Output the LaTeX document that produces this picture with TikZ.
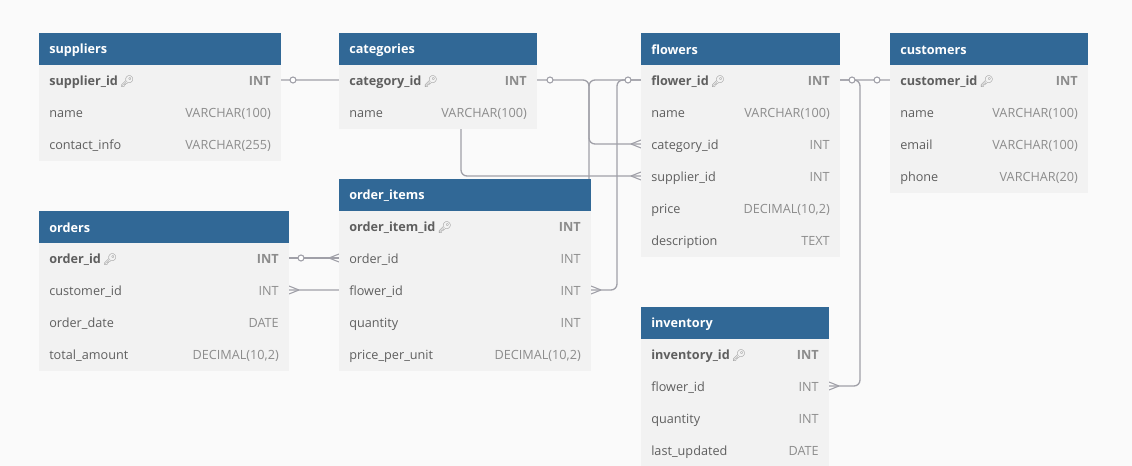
\documentclass[tikz,border=0pt]{standalone}
\usepackage{fontspec}
\setmainfont{Open Sans}
\newfontfamily\emojifont{Noto Emoji}
\usetikzlibrary{calc}

\definecolor{pagebg}{RGB}{250,250,250}
\definecolor{headblue}{RGB}{49,104,150}
\definecolor{rowfill}{RGB}{242,242,242}
\definecolor{fieldgray}{RGB}{95,95,95}
\definecolor{typegray}{RGB}{140,140,140}
\definecolor{relgray}{RGB}{160,160,168}

\pgfdeclarelayer{bg}
\pgfdeclarelayer{lines}
\pgfsetlayers{bg,lines,main}

% #1 left, #2 right, #3 top, #4 node name, #5 title, #6 key field, #7 key type, #8 other fields
\newcommand{\ertable}[8]{%
    \fill[headblue] (#1,#3) rectangle (#2,#3+32);
    \node[tabtitle] (#4) at (#1+10,#3+17) {#5};
    \fill[rowfill] (#1,#3+32) rectangle (#2,#3+64);
    \node[keyname] (#4-1-n) at (#1+10,#3+48) {#6\,{\emojifont\color{typegray}\fontsize{8.5}{9}\selectfont 🔑}};
    \node[keytype] (#4-1-t) at (#2-10,#3+48) {#7};
    \coordinate (#4-1-w) at (#1,#3+47);
    \coordinate (#4-1-e) at (#2,#3+47);
    \foreach \fname/\ftype [count=\i from 2, evaluate=\i as \y using #3+32*\i+15] in {#8} {
        \fill[rowfill] (#1,\y-15) rectangle (#2,\y+17);
        \node[fieldname] (#4-\i-n) at (#1+10,\y+1) {\fname};
        \node[fieldtype] (#4-\i-t) at (#2-10,\y+1) {\ftype};
        \coordinate (#4-\i-w) at (#1,\y);
        \coordinate (#4-\i-e) at (#2,\y);
    }%
}

\begin{document}
\begin{tikzpicture}[
        x=0.75pt, y=-0.75pt,
        tabtitle/.style={anchor=west, inner sep=0pt, text=white, font=\bfseries\fontsize{9.5}{11}\selectfont},
        fieldname/.style={anchor=west, inner sep=0pt, text height=1.6ex, text depth=.35ex, text=fieldgray, font=\fontsize{9.5}{11}\selectfont},
        keyname/.style={fieldname, font=\bfseries\fontsize{9.5}{11}\selectfont},
        fieldtype/.style={anchor=east, inner sep=0pt, text height=1.6ex, text depth=.35ex, text=typegray, font=\fontsize{9.5}{11}\selectfont},
        keytype/.style={fieldtype, font=\bfseries\fontsize{9.5}{11}\selectfont},
        rel/.style={draw=relgray, line width=1pt, rounded corners=4.5pt},
        one/.style={draw=relgray, line width=.8pt, fill=white},
        crowwest/.pic={\draw[relgray, line width=.8pt] (-10,0) -- (0,-4) (-10,0) -- (0,4);},
        croweast/.pic={\draw[relgray, line width=.8pt] (10,0) -- (0,-4) (10,0) -- (0,4);},
    ]
    \begin{pgfonlayer}{bg}
        \fill[pagebg] (0,0) rectangle (1132,466);
    \end{pgfonlayer}
    \useasboundingbox (0,0) rectangle (1132,466);

    \ertable{39}{281}{33}{suppliers}{suppliers}{supplier\_id}{INT}
        {name/VARCHAR(100), contact\_info/VARCHAR(255)}
    \ertable{339}{537}{33}{categories}{categories}{category\_id}{INT}
        {name/VARCHAR(100)}
    \ertable{641}{840}{33}{flowers}{flowers}{flower\_id}{INT}
        {name/VARCHAR(100), category\_id/INT, supplier\_id/INT, {price/DECIMAL(10,2)}, description/TEXT}
    \ertable{890}{1088}{33}{customers}{customers}{customer\_id}{INT}
        {name/VARCHAR(100), email/VARCHAR(100), phone/VARCHAR(20)}
    \ertable{39}{289}{211}{orders}{orders}{order\_id}{INT}
        {customer\_id/INT, order\_date/DATE, {total\_amount/DECIMAL(10,2)}}
    \ertable{339}{591}{179}{orderitems}{order\_items}{order\_item\_id}{INT}
        {order\_id/INT, flower\_id/INT, quantity/INT, {price\_per\_unit/DECIMAL(10,2)}}
    \ertable{641}{829}{307}{inventory}{inventory}{inventory\_id}{INT}
        {flower\_id/INT, quantity/INT, last\_updated/DATE}

    % bend columns of the relation lines
    \coordinate (bendA) at (461,0);
    \coordinate (bendB) at (589,0);
    \coordinate (bendC) at (617,0);
    \coordinate (bendD) at (860,0);

    \begin{pgfonlayer}{lines}
        \draw[rel] (suppliers-1-e) -| (bendA |- flowers-4-w) -- (flowers-4-w);
        \draw[rel] (categories-1-e) -| (bendB |- flowers-3-w) -- (flowers-3-w);
        \draw[rel] (customers-1-w) -| (bendB |- orders-2-e) -- (orders-2-e);
        \draw[rel] (flowers-1-w) -| (bendC |- orderitems-3-e) -- (orderitems-3-e);
        \draw[rel] (flowers-1-e) -| (bendD |- inventory-2-e) -- (inventory-2-e);
        \draw[rel] (orders-1-e) -- (orderitems-2-w);

        \draw[one] ($(suppliers-1-e)+(12,0)$) circle[radius=3];
        \draw[one] ($(categories-1-e)+(13,0)$) circle[radius=3];
        \draw[one] ($(customers-1-w)+(-13,0)$) circle[radius=3];
        \draw[one] ($(flowers-1-w)+(-13,0)$) circle[radius=3];
        \draw[one] ($(flowers-1-e)+(12,0)$) circle[radius=3];
        \draw[one] ($(orders-1-e)+(12,0)$) circle[radius=3];

        \pic at (flowers-4-w) {crowwest};
        \pic at (flowers-3-w) {crowwest};
        \pic at (orderitems-2-w) {crowwest};
        \pic at (orders-2-e) {croweast};
        \pic at (orderitems-3-e) {croweast};
        \pic at (inventory-2-e) {croweast};
    \end{pgfonlayer}
\end{tikzpicture}
\end{document}
